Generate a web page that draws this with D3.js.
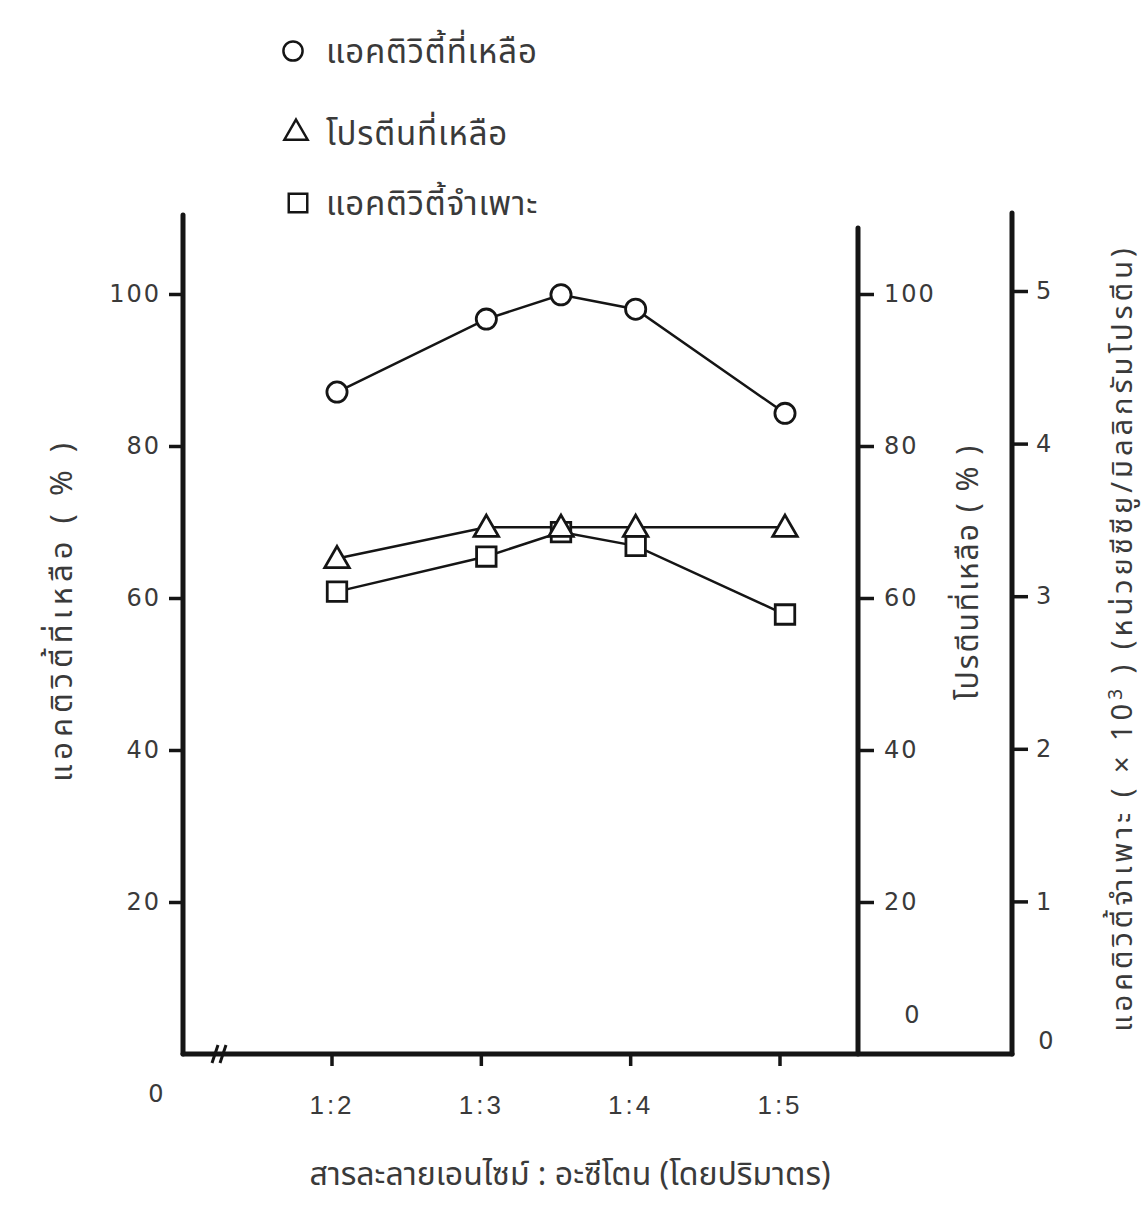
<!DOCTYPE html>
<html><head><meta charset="utf-8">
<script src="https://cdn.jsdelivr.net/npm/d3@7"></script>
<style>body{margin:0;background:#fff}</style>
</head><body>
<svg id="c" width="1146" height="1206"></svg>
<script>
// ---- data ----
const ratios = [2, 3, 3.5, 4, 5];            // enzyme solution : acetone (1:x)
const xTickValues = [2, 3, 4, 5];
const xTickLabels = ["1:2", "1:3", "1:4", "1:5"];
const remainingActivity = [87.1, 96.7, 99.9, 98.0, 84.3];   // %
const remainingProtein = [65.2, 69.3, 69.3, 69.3, 69.3];    // %
const specificActivity = [3.03, 3.26, 3.42, 3.33, 2.88];    // x10^3
const pctTicks = [20, 40, 60, 80, 100];
const specTicks = [1, 2, 3, 4, 5];
const legendLabels = ["แอคติวิตี้ที่เหลือ", "โปรตีนที่เหลือ", "แอคติวิตี้จำเพาะ"];

const svg = d3.select("#c");
const ink = "#151515", txt = "#3a3a3a";
const numFont = "'DejaVu Sans', sans-serif";
const thaiFont = "'Noto Sans Thai','Noto Sans','DejaVu Sans',sans-serif";

const x = d3.scaleLinear().domain([2, 5]).range([337, 785]);
const yPct = d3.scaleLinear().domain([0, 100]).range([1054, 294]);
const ySpec = d3.scaleLinear().domain([0, 5]).range([1054, 291]);

const leftX = 183, midX = 858, rightX = 1012, baseY = 1054;

// axis lines
svg.append("line").attr("x1", leftX).attr("x2", leftX).attr("y1", 215).attr("y2", baseY)
  .attr("stroke", ink).attr("stroke-width", 5).attr("stroke-linecap", "round");
svg.append("line").attr("x1", midX).attr("x2", midX).attr("y1", 228).attr("y2", baseY)
  .attr("stroke", ink).attr("stroke-width", 5).attr("stroke-linecap", "round");
svg.append("line").attr("x1", rightX).attr("x2", rightX).attr("y1", 213).attr("y2", baseY)
  .attr("stroke", ink).attr("stroke-width", 5).attr("stroke-linecap", "round");
svg.append("line").attr("x1", leftX).attr("x2", rightX).attr("y1", baseY).attr("y2", baseY)
  .attr("stroke", ink).attr("stroke-width", 5).attr("stroke-linecap", "round");

// axis break
[0, 8].forEach(o => {
  svg.append("line").attr("x1", 212 + o).attr("y1", 1063).attr("x2", 218 + o).attr("y2", 1045)
    .attr("stroke", ink).attr("stroke-width", 3);
});

function styleAxis(g) {
  g.select(".domain").remove();
  g.selectAll(".tick line").attr("stroke", ink).attr("stroke-width", 3.5);
  g.selectAll(".tick text").attr("fill", txt).style("font-family", numFont)
    .style("font-size", "24px").style("letter-spacing", "2px");
}

svg.append("g").attr("transform", `translate(${leftX},0)`)
  .call(d3.axisLeft(yPct).tickValues(pctTicks).tickSize(14).tickPadding(8))
  .call(styleAxis);
svg.append("g").attr("transform", `translate(${midX},0)`)
  .call(d3.axisRight(yPct).tickValues(pctTicks).tickSize(16).tickPadding(10))
  .call(styleAxis);
svg.append("g").attr("transform", `translate(${rightX},0)`)
  .call(d3.axisRight(ySpec).tickValues(specTicks).tickFormat(d3.format("d")).tickSize(16).tickPadding(8))
  .call(styleAxis);

const xAxisG = svg.append("g").attr("transform", `translate(0,${baseY})`)
  .call(d3.axisBottom(x).tickValues(xTickValues).tickFormat((d, i) => xTickLabels[i]).tickSize(12).tickPadding(30))
  .call(styleAxis);
xAxisG.selectAll(".tick text").style("font-family", "'Liberation Sans',sans-serif")
  .style("font-size", "26px").style("letter-spacing", "3px");
xAxisG.selectAll(".tick").attr("transform", d => `translate(${x(d) - 5},0)`);

// zero labels
const zeroStyle = s => s.attr("fill", txt).style("font-family", numFont).style("font-size", "24px");
svg.append("text").attr("x", 156).attr("y", 1102).attr("text-anchor", "middle").text("0").call(zeroStyle);
svg.append("text").attr("x", 912).attr("y", 1023).attr("text-anchor", "middle").text("0").call(zeroStyle);
svg.append("text").attr("x", 1046).attr("y", 1049).attr("text-anchor", "middle").text("0").call(zeroStyle);

// lines
const line = y => d3.line().x((d, i) => x(ratios[i])).y(d => y(d));
const addLine = (vals, y) => svg.append("path").datum(vals).attr("d", line(y))
  .attr("fill", "none").attr("stroke", ink).attr("stroke-width", 2.5);
addLine(remainingActivity, yPct);
addLine(remainingProtein, yPct);
addLine(specificActivity, ySpec);

const circ = d3.symbol().type(d3.symbolCircle).size(320);
const tri = d3.symbol().type(d3.symbolTriangle).size(260);
const sq = d3.symbol().type(d3.symbolSquare).size(380);
function marks(vals, y, sym, dy) {
  svg.append("g").selectAll("path").data(vals).join("path")
    .attr("transform", (d, i) => `translate(${x(ratios[i])},${y(d) + (dy || 0)})`)
    .attr("d", sym).attr("fill", "#fff").attr("stroke", ink).attr("stroke-width", 2.8);
}
marks(remainingActivity, yPct, circ);
marks(specificActivity, ySpec, sq);
marks(remainingProtein, yPct, tri, 2);

// legend
const legendSyms = [circ, tri, sq];
const legendY = [51, 133, 203];
const legendX = [293, 296, 298];
legendLabels.forEach((lab, i) => {
  svg.append("path").attr("d", legendSyms[i]).attr("transform", `translate(${legendX[i]},${legendY[i]}) scale(0.95)`)
    .attr("fill", "#fff").attr("stroke", ink).attr("stroke-width", 2.6);
  svg.append("text").attr("x", 326).attr("y", legendY[i] + 12).text(lab)
    .attr("fill", txt).style("font-family", thaiFont).style("font-size", "33px").style("letter-spacing", "0.8px");
});

// axis titles
const titleStyle = (s, fs, ls) => s.attr("fill", txt).style("font-family", thaiFont)
  .style("font-size", fs + "px").style("letter-spacing", ls + "px");
svg.append("text").attr("transform", "translate(72,610) rotate(-90)").attr("text-anchor", "middle")
  .text("แอคติวิตี้ที่เหลือ   (   %   )").call(titleStyle, 31, 5);
svg.append("text").attr("transform", "translate(978,572) rotate(-90)").attr("text-anchor", "middle")
  .text("โปรตีนที่เหลือ  (  %  )").call(titleStyle, 30, 2);
const rt = svg.append("text").attr("transform", "translate(1132,638) rotate(-90)").attr("text-anchor", "middle")
  .call(titleStyle, 29, 4);
rt.append("tspan").text("แอคติวิตี้จำเพาะ   ( × 10");
rt.append("tspan").attr("dy", -10).style("font-size", "19px").text("3");
rt.append("tspan").attr("dy", 10).text(" )   (หน่วยซีซียู/มิลลิกรัมโปรตีน)");

svg.append("text").attr("x", 570).attr("y", 1185).attr("text-anchor", "middle")
  .text("สารละลายเอนไซม์ : อะซีโตน (โดยปริมาตร)").call(titleStyle, 32, 0);
</script>
</body></html>
